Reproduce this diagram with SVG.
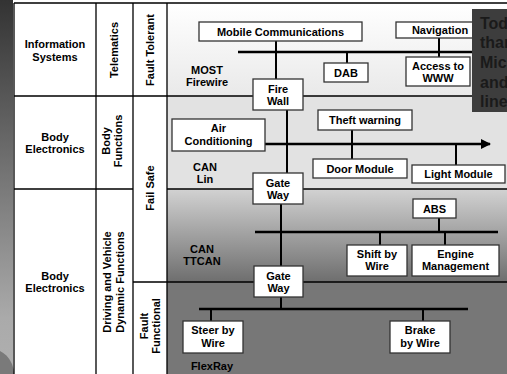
<svg xmlns="http://www.w3.org/2000/svg" width="507" height="374" viewBox="0 0 507 374">
<defs>
<linearGradient id="gStrip" x1="0" y1="0" x2="0" y2="1">
<stop offset="0" stop-color="#333"/><stop offset="0.85" stop-color="#aaa"/><stop offset="1" stop-color="#b0b0b0"/>
</linearGradient>
<linearGradient id="gTop" x1="0" y1="0" x2="0" y2="1">
<stop offset="0" stop-color="#ffffff"/><stop offset="1" stop-color="#e9e9e9"/>
</linearGradient>
<linearGradient id="gMid" x1="0" y1="0" x2="0" y2="1">
<stop offset="0" stop-color="#d2d2d2"/><stop offset="1" stop-color="#6e6e6e"/>
</linearGradient>
<marker id="arr" viewBox="0 0 10 10" refX="9" refY="5" markerWidth="4" markerHeight="4" orient="auto" markerUnits="strokeWidth">
<path d="M0,0 L10,5 L0,10 z" fill="#000"/>
</marker>
<clipPath id="cl"><rect x="0" y="0" width="507" height="374"/></clipPath>
</defs>
<style>
text{font-family:"Liberation Sans",Arial,sans-serif;font-weight:bold;font-size:11px;fill:#000;text-anchor:middle}
.box{fill:#fff;stroke:#333;stroke-width:1.3}
.frame{stroke:#000;stroke-width:1.3;fill:none}
.bus{stroke:#000;stroke-width:2.5;fill:none}
.wire{stroke:#000;stroke-width:2;fill:none}
.note{font-size:16px;text-anchor:start;fill:#1a1a1a}
</style>
<!-- background -->
<rect x="0" y="0" width="507" height="374" fill="#fff"/>
<rect x="0" y="0" width="13" height="374" fill="url(#gStrip)"/>
<circle cx="-12" cy="374" r="26" fill="#7a7a7a" clip-path="url(#cl)"/>
<rect x="167" y="3" width="340" height="93" fill="url(#gTop)"/>
<rect x="167" y="96" width="340" height="93" fill="#e2e2e2"/>
<rect x="167" y="189" width="340" height="93" fill="url(#gMid)"/>
<rect x="167" y="282" width="340" height="92" fill="#777"/>
<!-- frame -->
<g id="frame" class="frame">
<path d="M14,3 H507 M14,3 V374 M96,3 V374 M133,3 V374 M167,3 V374"/>
<path d="M14,96 H507 M14,189 H133 M167,189 H507 M133,282 H507"/>
</g>
<!-- side labels -->
<g id="labels">
<text x="55" y="48">Information</text><text x="55" y="61">Systems</text>
<text x="55" y="141">Body</text><text x="55" y="153">Electronics</text>
<text x="55" y="280">Body</text><text x="55" y="292">Electronics</text>
<text transform="translate(118,50) rotate(-90)">Telematics</text>
<text transform="translate(154,50) rotate(-90)">Fault Tolerant</text>
<text transform="translate(110,141) rotate(-90)">Body</text>
<text transform="translate(122,141) rotate(-90)">Functions</text>
<text transform="translate(154,188) rotate(-90)">Fail Safe</text>
<text transform="translate(111,282) rotate(-90)">Driving and Vehicle</text>
<text transform="translate(124,282) rotate(-90)">Dynamic Functions</text>
<text transform="translate(148,326) rotate(-90)">Fault</text>
<text transform="translate(160,326) rotate(-90)">Functional</text>
<text x="207" y="74">MOST</text><text x="207" y="86">Firewire</text>
<text x="205" y="171">CAN</text><text x="205" y="183">Lin</text>
<text x="202" y="253">CAN</text><text x="202" y="265">TTCAN</text>
<text x="212" y="370">FlexRay</text>
</g>
<!-- connectors -->
<g id="connectors">
<path class="bus" d="M238,52 H492"/>
<path class="bus" d="M265,144 H490" marker-end="url(#arr)"/>
<path class="bus" d="M255,232 H498"/>
<path class="bus" d="M199,309 H468"/>
<path class="wire" d="M276,41 V79 M287,110 V173 M281,204 V266 M281,297 V309"/>
<path class="wire" d="M347,52 V63 M439,38 V57"/>
<path class="wire" d="M352,130 V159 M456,144 V165"/>
<path class="wire" d="M439,218 V232 M380,232 V245 M445,232 V245"/>
<path class="wire" d="M211,309 V321 M423,309 V321"/>
</g>
<!-- nodes -->
<g id="n-mobile"><rect class="box" x="199" y="22" width="163" height="19"/><text x="280.5" y="35.5">Mobile Communications</text></g>
<g id="n-nav"><rect class="box" x="396" y="22" width="88" height="16"/><text x="440" y="34">Navigation</text></g>
<g id="n-dab"><rect class="box" x="324" y="63" width="44" height="19"/><text x="346" y="76.5">DAB</text></g>
<g id="n-www"><rect class="box" x="406" y="57" width="64" height="29"/><text x="438" y="70">Access to</text><text x="438" y="82">WWW</text></g>
<g id="n-firewall"><rect class="box" x="253" y="79" width="50" height="31"/><text x="278" y="93">Fire</text><text x="278" y="105">Wall</text></g>
<g id="n-theft"><rect class="box" x="318" y="110" width="94" height="20"/><text x="365" y="124">Theft warning</text></g>
<g id="n-air"><rect class="box" x="172" y="119" width="93" height="32"/><text x="218.5" y="132">Air</text><text x="218.5" y="145">Conditioning</text></g>
<g id="n-door"><rect class="box" x="313" y="159" width="94" height="19"/><text x="360" y="172.5">Door Module</text></g>
<g id="n-light"><rect class="box" x="412" y="165" width="93" height="18"/><text x="458.5" y="178">Light Module</text></g>
<g id="n-gate1"><rect class="box" x="253" y="173" width="50" height="31"/><text x="278" y="187">Gate</text><text x="278" y="199">Way</text></g>
<g id="n-abs"><rect class="box" x="413" y="199" width="43" height="19"/><text x="434.5" y="212.5">ABS</text></g>
<g id="n-shift"><rect class="box" x="347" y="245" width="60" height="31"/><text x="377" y="258">Shift by</text><text x="377" y="270">Wire</text></g>
<g id="n-engine"><rect class="box" x="412" y="245" width="87" height="31"/><text x="455.5" y="258">Engine</text><text x="455.5" y="270">Management</text></g>
<g id="n-gate2"><rect class="box" x="254" y="266" width="49" height="31"/><text x="278.5" y="280">Gate</text><text x="278.5" y="292">Way</text></g>
<g id="n-steer"><rect class="box" x="183" y="321" width="60" height="32"/><text x="213" y="334">Steer by</text><text x="213" y="347">Wire</text></g>
<g id="n-brake"><rect class="box" x="390" y="321" width="60" height="32"/><text x="420" y="334">Brake</text><text x="420" y="347">by Wire</text></g>
<!-- overlay note -->
<g id="note">
<rect x="472" y="9" width="35" height="103" fill="#3d3d3d"/>
<text class="note" x="480" y="29">Tod</text>
<text class="note" x="480" y="48">than</text>
<text class="note" x="480" y="68">Mic</text>
<text class="note" x="480" y="88">and</text>
<text class="note" x="480" y="107">line</text>
</g>
</svg>
